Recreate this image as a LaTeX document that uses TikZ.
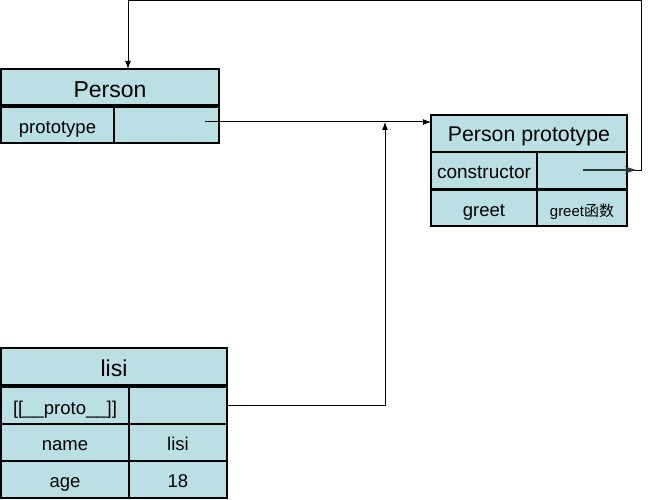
\documentclass[tikz,border=0pt]{standalone}
\usepackage{fontspec}
\setmainfont{Liberation Sans}
\newfontfamily\cjk{Noto Sans CJK SC}
\usetikzlibrary{arrows.meta}
\definecolor{cellfill}{RGB}{187,224,227}
\begin{document}
\begin{tikzpicture}[x=1pt,y=-1pt,
  cell/.style={draw=black,fill=cellfill,line width=1.3pt,rectangle,inner sep=0pt,outer sep=0pt,anchor=north west,font=\fontsize{18.5}{20}\selectfont,text height=16.2pt,text depth=0pt},
  titlecell/.style={cell,font=\fontsize{23}{25}\selectfont,text height=20.4pt},
  link/.style={draw=black,line width=1pt},
  tip/.style={-{Latex[length=8pt,width=6pt]}}]
\useasboundingbox (0,0) rectangle (653,500);
% Person
\node[titlecell,minimum width=218pt,minimum height=36pt] (ptitle) at (1,69) {Person};
\node[cell,minimum width=113pt,minimum height=36pt] (pkey) at (1,107) {prototype};
\node[cell,minimum width=105pt,minimum height=36pt] (pval) at (114,107) {};
% Person prototype
\node[titlecell,font=\fontsize{21.3}{23}\selectfont,text height=16.6pt,minimum width=196pt,minimum height=37pt] (pptitle) at (431,115) {Person prototype};
\node[cell,font=\fontsize{19}{21}\selectfont,text height=15.8pt,minimum width=106pt,minimum height=37pt] (ckey) at (431,152) {constructor};
\node[cell,minimum width=90pt,minimum height=37pt] (cval) at (537,152) {};
\node[cell,text height=17pt,minimum width=106pt,minimum height=36pt] (gkey) at (431,190) {greet};
\node[cell,font=\fontsize{15}{17}\selectfont,text height=17pt,minimum width=90pt,minimum height=36pt] (gval) at (537,190) {greet{\cjk 函数}};
% lisi
\node[titlecell,minimum width=226pt,minimum height=37pt] (ltitle) at (1,348) {lisi};
\node[cell,text height=17pt,minimum width=128pt,minimum height=37pt] (lpkey) at (1,387) {[[\_\_proto\_\_]]};
\node[cell,minimum width=98pt,minimum height=37pt] (lpval) at (129,387) {};
\node[cell,minimum width=128pt,minimum height=37pt] (nkey) at (1,424) {name};
\node[cell,minimum width=98pt,minimum height=37pt] (nval) at (129,424) {lisi};
\node[cell,text height=15pt,minimum width=128pt,minimum height=37pt] (akey) at (1,461) {age};
\node[cell,text height=15pt,minimum width=98pt,minimum height=37pt] (aval) at (129,461) {18};
% connector coordinates
\coordinate (s1) at (205,122);
\coordinate (e1) at (431,122);
\coordinate (s2) at (227,405);
\coordinate (c2) at (385,405);
\coordinate (e2) at (385,122);
\coordinate (s3) at (583,170);
\coordinate (e3) at (636,170);
\coordinate (r3) at (641,170);
\coordinate (t3) at (641,1);
\coordinate (l3) at (128,1);
\coordinate (d3) at (128,69);
% connectors
\draw[link,tip] (s1) -- (e1);
\draw[link,tip] (s2) -- (c2) -- (e2);
\draw[link] (629,170) -- (r3) -- (t3) -- (l3);
\draw[link,tip] (l3) -- (d3);
\draw[draw=black!75!cellfill,line width=2pt,-{Stealth[open,length=11pt,width=7pt]}] (s3) -- (e3);
\end{tikzpicture}
\end{document}
